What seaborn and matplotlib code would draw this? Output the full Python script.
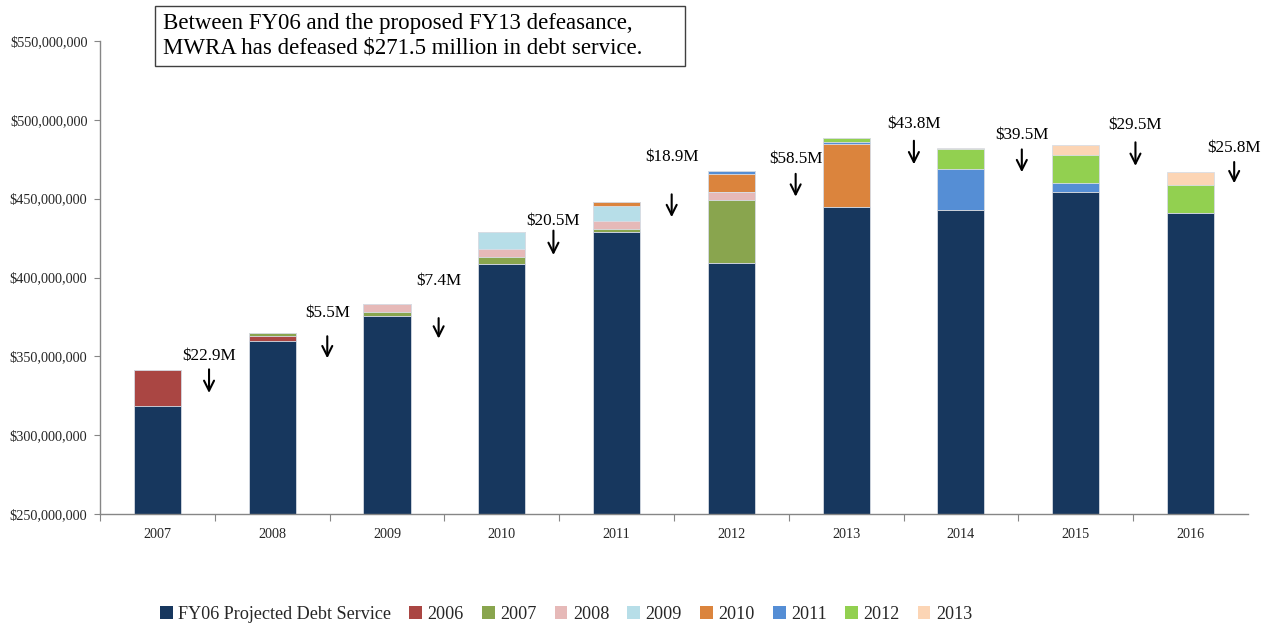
import matplotlib
matplotlib.use("Agg")
import matplotlib.pyplot as plt
import seaborn as sns
import numpy as np
import pandas as pd
from matplotlib.patches import Patch, Rectangle
from matplotlib.ticker import FuncFormatter

# ---- data (millions of dollars) ----
years = ["2007", "2008", "2009", "2010", "2011", "2012", "2013", "2014", "2015", "2016"]
series_names = ["FY06 Projected Debt Service", "2006", "2007", "2008", "2009",
                "2010", "2011", "2012", "2013"]
fy06_base = [318.5, 359.5, 375.6, 408.5, 429.0, 409.0, 444.7, 442.5, 454.4, 440.8]
d2006 = [22.9, 3.6, 0, 0, 0, 0, 0, 0, 0, 0]
d2007 = [0, 1.9, 2.3, 4.4, 1.8, 40.2, 0, 0, 0, 0]
d2008 = [0, 0, 5.1, 5.0, 5.0, 5.0, 0, 0, 0, 0]
d2009 = [0, 0, 0, 11.1, 9.7, 0, 0, 0, 0, 0]
d2010 = [0, 0, 0, 0, 2.4, 11.4, 39.8, 0, 0, 0]
d2011 = [0, 0, 0, 0, 0, 1.9, 1.5, 26.0, 5.3, 0]
d2012 = [0, 0, 0, 0, 0, 0, 2.5, 13.2, 18.0, 17.6]
d2013 = [0, 0, 0, 0, 0, 0, 0, 0.3, 6.2, 8.2]

colors = ["#17375E", "#AA4643", "#89A54E", "#E6B9B8", "#B7DEE8",
          "#DB843D", "#558ED5", "#92D050", "#FCD5B5"]

ann_labels = ["$22.9M", "$5.5M", "$7.4M", "$20.5M", "$18.9M",
              "$58.5M", "$43.8M", "$39.5M", "$29.5M", "$25.8M"]
ann_x = [0.45, 1.48, 2.45, 3.45, 4.48, 5.56, 6.59, 7.53, 8.52, 9.38]
ann_text_y = [350.5, 377.5, 397.5, 436.0, 476.5, 475.0, 497.5, 490.5, 497.0, 482.0]
ann_arrow_top = [343.5, 364.5, 376.0, 431.5, 454.5, 467.5, 488.5, 483.0, 487.5, 475.0]
ann_arrow_bot = [325.0, 347.0, 359.5, 412.5, 436.5, 449.5, 470.0, 465.0, 469.0, 458.0]

box_text = "Between FY06 and the proposed FY13 defeasance,\nMWRA has defeased $271.5 million in debt service."

# ---- figure ----
sns.set_theme(style="white")
plt.rcParams["font.family"] = ["Liberation Serif", "DejaVu Serif"]

fig = plt.figure(figsize=(12.72, 6.25), dpi=100)
ax = fig.add_axes([0.0786, 0.1776, 0.9025, 0.7568])

layers = [fy06_base, d2006, d2007, d2008, d2009, d2010, d2011, d2012, d2013]
cum = np.cumsum(np.array(layers, dtype=float), axis=0)

# draw cumulative totals from largest to smallest so each series shows as its segment
for i in range(len(layers) - 1, -1, -1):
    df = pd.DataFrame({"year": years, "value": cum[i] * 1e6})
    sns.barplot(data=df, x="year", y="value", color=colors[i], width=0.41,
                saturation=1, ax=ax, edgecolor="#D9DEE6", linewidth=0.6)

ax.set_ylim(250e6, 550e6)
ax.set_xlim(-0.5, len(years) - 0.5)
ax.set_yticks(np.arange(250e6, 550e6 + 1, 50e6))
ax.yaxis.set_major_formatter(FuncFormatter(lambda v, p: "${:,.0f}".format(v)))
ax.set_xlabel("")
ax.set_ylabel("")

for s in ["top", "right"]:
    ax.spines[s].set_visible(False)
for s in ["left", "bottom"]:
    ax.spines[s].set_color("#868686")
    ax.spines[s].set_linewidth(1.0)

ax.tick_params(axis="y", which="major", left=True, length=4, width=0.8,
               color="#868686", labelsize=10.3, pad=5)
ax.set_xticks(np.arange(len(years)) - 0.5, minor=True)
ax.tick_params(axis="x", which="minor", bottom=True, length=5, width=0.8,
               color="#868686")
ax.set_xticks(np.arange(len(years)))
ax.set_xticklabels(years)
ax.tick_params(axis="x", which="major", bottom=False, length=0, labelsize=10.2, pad=10)
ax.grid(False)

# annotations
for x, lab, ty, a0, a1 in zip(ann_x, ann_labels, ann_text_y, ann_arrow_top, ann_arrow_bot):
    ax.text(x, ty * 1e6, lab, ha="center", va="center", fontsize=12.3, color="black")
    ax.annotate("", xy=(x, a1 * 1e6), xytext=(x, a0 * 1e6),
                arrowprops=dict(arrowstyle="->", color="black", lw=1.5,
                                mutation_scale=18))

# text box
fig.add_artist(Rectangle((155 / 1272, 1 - 66 / 625), 530 / 1272, 60 / 625,
                         transform=fig.transFigure, facecolor="white",
                         edgecolor="#404040", linewidth=1.0, zorder=5))
fig.text(163 / 1272, 1 - 36 / 625, box_text, ha="left", va="center", fontsize=16.5,
         color="black", linespacing=1.22, zorder=6)

# legend
handles = [Patch(facecolor=c, edgecolor="none") for c in colors]
fig.legend(handles, series_names, loc="center", bbox_to_anchor=(0.445, 0.017),
           ncol=len(series_names), frameon=False, fontsize=13.1,
           handlelength=0.7, handleheight=0.7, handletextpad=0.3,
           columnspacing=1.0)

fig.savefig("out.png", dpi=100)
